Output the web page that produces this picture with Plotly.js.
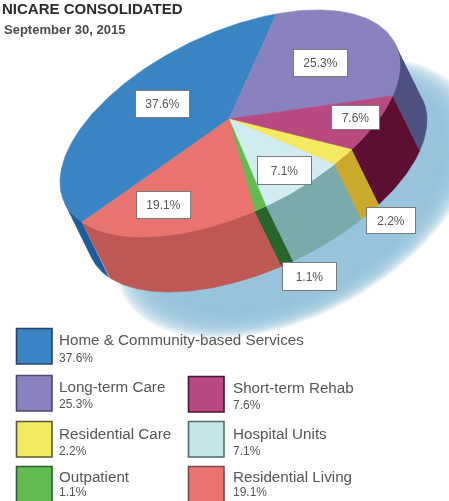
<!DOCTYPE html>
<html><head><meta charset="utf-8">
<script src="https://cdn.plot.ly/plotly-3.0.1.min.js"></script>
<style>html,body{margin:0;padding:0;background:#fff;overflow:hidden}#c{width:449px;height:501px;filter:blur(0.55px)}</style>
</head><body><div id="c"></div>
<script>
const categories=["Home & Community-based Services","Long-term Care","Short-term Rehab","Residential Care","Hospital Units","Outpatient","Residential Living"];
const shares=[37.6,25.3,7.6,2.2,7.1,1.1,19.1];
const valueLabels=["37.6%","25.3%","7.6%","2.2%","7.1%","1.1%","19.1%"];
const topColors=["#3A84C4","#8A82BE","#B84A80","#F5E961","#D2EDF2","#62BB4E","#E8736F"];
const sideColors=["#1E5C99","#4E5080","#5C0F33","#C9AA2C","#7AABAA","#28642E","#BE5854"];
const swatchColors=["#3A84C4","#8A82BE","#B84A80","#F5E961","#C4E6E9","#62BB4E","#E8736F"];
const swatchBorders=["#24456a","#4a4a70","#4a1530","#5a5a30","#4f6b6b","#2f5a30","#7a4a48"];

// projection of the pie disc onto the page
const apex=[229,119], centre=[230,123.5], A=[170,-58.5], B=[0,97.3], depth=[27,55], startDeg=150.5;
const rim=(deg,off)=>{const r=deg*Math.PI/180,o=off?1:0;
  return [centre[0]+A[0]*Math.cos(r)+B[0]*Math.sin(r)+o*depth[0],centre[1]+A[1]*Math.cos(r)+B[1]*Math.sin(r)+o*depth[1]];};
const total=shares.reduce((s,v)=>s+v,0);
const traces=[];
const poly=(pts,color)=>traces.push({type:'scatter',mode:'lines',x:pts.map(p=>p[0]),y:pts.map(p=>p[1]),fill:'toself',fillcolor:color,line:{color:color,width:0.6},hoverinfo:'skip',showlegend:false});

// soft shadow: stacked translucent ellipses
const shadowC=[295,198], shadowA=[165,-55], shadowB=[0,115];
for(let i=0;i<16;i++){const g=1.10-i*0.0135,pts=[];
  for(let d=0;d<=360;d+=4){const r=d*Math.PI/180;
    pts.push([shadowC[0]+g*(shadowA[0]*Math.cos(r)+shadowB[0]*Math.sin(r)),shadowC[1]+g*(shadowA[1]*Math.cos(r)+shadowB[1]*Math.sin(r))]);}
  traces.push({type:'scatter',mode:'lines',x:pts.map(p=>p[0]),y:pts.map(p=>p[1]),fill:'toself',fillcolor:'rgba(152,195,218,0.2)',line:{width:0},hoverinfo:'skip',showlegend:false});}

// walls, then tops
const wallFrom=-13.5, wallTo=166.5;
let a=startDeg;const ranges=shares.map(v=>{const s=a;a+=v/total*360;return [s,a];});
ranges.forEach((rg,i)=>{
  for(const shift of [-360,0,360]){
    const s=Math.max(rg[0]+shift,wallFrom),e=Math.min(rg[1]+shift,wallTo);
    if(e<=s)continue;
    const up=[],dn=[];
    for(let d=s;d<e;d+=1){up.push(rim(d,false));dn.push(rim(d,true));}
    up.push(rim(e,false));dn.push(rim(e,true));
    poly(up.concat(dn.reverse()),sideColors[i]);
  }
});
ranges.forEach((rg,i)=>{
  const pts=[apex];
  for(let d=rg[0];d<rg[1];d+=1)pts.push(rim(d,false));
  pts.push(rim(rg[1],false));pts.push(apex);
  poly(pts,topColors[i]);
});

// label box positions, same order as categories
const boxX=[162.5,320,355,391,284,309,163], boxY=[104,63,117,220,170,276,205], boxW=[55,55,49,50,55,55,55], boxH=[28,28,25,27,29,29,28];
const anns=valueLabels.map((t,i)=>({x:boxX[i],y:boxY[i],text:t,showarrow:false,xanchor:'center',yanchor:'middle',width:boxW[i]-2,height:boxH[i]-2,bgcolor:'#fff',bordercolor:'#7a7a7a',borderwidth:1,borderpad:0,font:{family:'Liberation Sans',size:12,color:'#555'}}));

// legend layout
const swX=[16,16,188,16,188,16,188], swY=[328,375,376,421,421,466,466];
const txX=[57,57,231,57,231,57,231], txY=[339,386,387,433,433,476,476], subY=[358,404,405,451,451,492,492];
const shapes=categories.map((c,i)=>({type:'rect',x0:swX[i]+.5,x1:swX[i]+36,y0:swY[i]+.5,y1:swY[i]+36,fillcolor:swatchColors[i],line:{color:swatchBorders[i],width:1.6}}));
const txt=(x,y,t,size,col)=>({x,y,text:t,showarrow:false,xanchor:'left',yanchor:'middle',font:{family:'Liberation Sans',size,color:col}});
categories.forEach((c,i)=>{
  anns.push(txt(txX[i],txY[i],c,15.2,'#555'));
  anns.push(txt(txX[i],subY[i],valueLabels[i],12,'#555'));
});
anns.push(txt(0,8,'<b>NICARE CONSOLIDATED</b>',15,'#2b2b2b'));
anns.push(txt(2,29,'<b>September 30, 2015</b>',13,'#4a4a4a'));

Plotly.newPlot('c',traces,{width:449,height:501,margin:{l:0,r:0,t:0,b:0},paper_bgcolor:'#fff',plot_bgcolor:'#fff',showlegend:false,
  xaxis:{range:[0,449],visible:false,fixedrange:true},yaxis:{range:[501,0],visible:false,fixedrange:true},annotations:anns,shapes:shapes},{displayModeBar:false,staticPlot:true});
</script></body></html>
